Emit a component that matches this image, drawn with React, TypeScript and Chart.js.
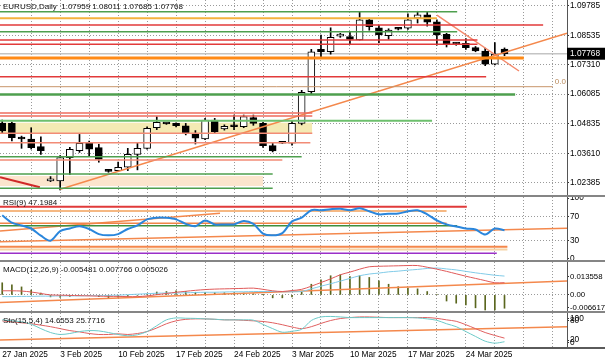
import { useEffect, useRef } from 'react';
import { Chart, registerables } from 'chart.js';

Chart.register(...registerables);

const FONT = '"Liberation Sans", Arial, sans-serif';
const W = 605;
const AXIS_W = 38;
const X_MIN = -0.23;
const X_MAX = 58.47;
const GRID = '#9a9a9a';

// ---------- time axis ----------
const dateLabels = ['27 Jan 2025', '3 Feb 2025', '10 Feb 2025', '17 Feb 2025', '24 Feb 2025', '3 Mar 2025', '10 Mar 2025', '17 Mar 2025', '24 Mar 2025'];
const dateLabelBar = [0, 6, 12, 18, 24, 30, 36, 42, 48];
const gridBars = [0, 3, 6, 9, 12, 15, 18, 21, 24, 27, 30, 33, 36, 39, 42, 45, 48, 51, 54, 57];

// ---------- candles (bar index 0..52) ----------
const opens = [1.0487, 1.0486, 1.0426, 1.0421, 1.0389, 1.0246, 1.0246, 1.0343, 1.0372, 1.0403, 1.0385, 1.0289, 1.0289, 1.0303, 1.0357, 1.0382, 1.0468, 1.0485, 1.0486, 1.0476, 1.0445, 1.0421, 1.0500, 1.0463, 1.0475, 1.0472, 1.0510, 1.0486, 1.0393, 1.0404, 1.0403, 1.0486, 1.0618, 1.0795, 1.0785, 1.0850, 1.0848, 1.0834, 1.0918, 1.0885, 1.0852, 1.0880, 1.0883, 1.0925, 1.0939, 1.0910, 1.0858, 1.0818, 1.0820, 1.0802, 1.0788, 1.0733, 1.07959];
const highs = [1.0500, 1.0491, 1.0433, 1.0468, 1.0430, 1.0264, 1.0352, 1.0386, 1.0440, 1.0412, 1.0399, 1.0293, 1.0325, 1.0382, 1.0407, 1.0472, 1.0514, 1.0487, 1.0488, 1.0486, 1.0456, 1.0507, 1.0507, 1.0480, 1.0521, 1.0521, 1.0521, 1.0490, 1.0405, 1.0408, 1.0495, 1.0624, 1.0795, 1.0855, 1.0885, 1.0862, 1.0870, 1.0950, 1.0925, 1.0895, 1.0881, 1.0884, 1.0943, 1.0954, 1.0950, 1.0918, 1.0862, 1.0822, 1.0840, 1.0807, 1.0800, 1.0823, 1.08011];
const lows = [1.0445, 1.0413, 1.0382, 1.0379, 1.0357, 1.0243, 1.0208, 1.0273, 1.0365, 1.0351, 1.0324, 1.0282, 1.0285, 1.0289, 1.0292, 1.0378, 1.0460, 1.0482, 1.0471, 1.0438, 1.0400, 1.0418, 1.0445, 1.0458, 1.0460, 1.0468, 1.0478, 1.0386, 1.0367, 1.0402, 1.0395, 1.0480, 1.0610, 1.0758, 1.0775, 1.0845, 1.0817, 1.0834, 1.0875, 1.0823, 1.0837, 1.0876, 1.0878, 1.0905, 1.0892, 1.0813, 1.0805, 1.0812, 1.0795, 1.0785, 1.0727, 1.0730, 1.07685];
const closes = [1.0455, 1.0426, 1.0421, 1.0385, 1.0372, 1.0254, 1.0343, 1.0378, 1.0403, 1.0378, 1.0336, 1.0286, 1.0303, 1.0357, 1.0382, 1.0465, 1.0490, 1.0484, 1.0477, 1.0445, 1.0424, 1.0500, 1.0451, 1.0474, 1.0472, 1.0514, 1.0486, 1.0393, 1.0371, 1.0403, 1.0486, 1.0616, 1.0785, 1.0785, 1.0845, 1.0855, 1.0837, 1.0918, 1.0890, 1.0855, 1.0876, 1.0879, 1.0918, 1.0939, 1.0908, 1.0855, 1.0816, 1.0817, 1.0802, 1.0788, 1.0733, 1.0775, 1.07768];
const bars = opens.map((_, i) => i);

// ---------- main price axis ----------
const PRICE_MIN = 1.018717;
const PRICE_MAX = 1.100103;
const priceTicks = [1.09785, 1.08535, 1.07768, 1.0731, 1.06085, 1.04835, 1.0361, 1.02385];
const lastPrice = 1.07768;

// horizontal objects on the price chart
const mainLevelPrice = [1.09522, 1.09246, 1.08967, 1.08687, 1.08341, 1.08161, 1.0759, 1.06809, 1.06392, 1.06066, 1.05294, 1.05169, 1.04973, 1.04447, 1.04055, 1.0347, 1.03332, 1.02748, 1.02151];
const mainLevelEnd = [47.1, 45.0, 56.0, 47.1, 49.2, 49.2, 54.0, 50.1, 57.0, 53.1, 32.1, 32.1, 44.5, 32.1, 31.9, 31.0, 29.0, 28.0, 28.0];
const mainLevelColor = ['#4e9f4e', '#f4b23e', '#e23a3a', '#4e9f4e', '#e23a3a', '#e23a3a', '#ff8a16', '#e23a3a', '#c8966a', '#4e9f4e', '#ee6b5c', '#ee6b5c', '#6dbf6d', '#f28b76', '#f28b76', '#4e9f4e', '#f28b76', '#4e9f4e', '#4e9f4e'];
const mainLevelWidth = [1.5, 2, 1.5, 1.5, 1.5, 1.5, 3, 1.5, 1, 2.5, 1.5, 1.5, 2, 1.5, 1.5, 1.5, 1.5, 1.5, 1.5];
const fibZeroIndex = 8;

const bandTop = [1.04889, 1.02665];
const bandBottom = [1.04447, 1.02247];
const bandEnd = [32.1, 27.0];
const bandColor = ['#f4eab4', '#fce5cd'];

// trend lines: [x0, y0, x1, y1]
const upTrend = [6, 1.0211, 58.47, 1.0862];
const shortRedTrend = [-0.23, 1.02611, 3.9, 1.02193];
const downTrend = [45.0, 1.09384, 53.5, 1.07047];

// ---------- RSI ----------
const rsiValues = [71.7, 59.5, 55, 50, 38.3, 30, 45.8, 50, 53.8, 49.2, 40.8, 38.8, 40.8, 49.2, 55, 65, 67.8, 67.5, 65, 57.5, 53.8, 63.3, 56.7, 56.7, 56.7, 62.5, 57.5, 41.7, 38.8, 42.5, 61.7, 67.8, 80, 80, 81.7, 82.5, 80, 83.3, 78.3, 73.3, 74.2, 74.5, 78.3, 80, 73.3, 63.3, 56.7, 53.3, 50, 48.3, 40, 50, 47.1984];
const rsiTicks = [100, 70, 30, 0];
const rsiLevelVal = [85.8, 78.7, 58.5, 54.6, 20.1, 15.5, 9.3];
const rsiLevelEnd = [48.1, 46.0, 46.0, 47.1, 52.3, 52.3, 51.2];
const rsiLevelColor = ['#e03a3a', '#f2a05a', '#f08448', '#3e8e3e', '#f4874b', '#f6d3a6', '#9b30c8'];
const rsiLevelWidth = [2, 1.5, 1.5, 1.5, 2, 2, 1.5];
const rsiTrend1 = [-0.23, 45.9, 22.55, 75.0];
const rsiTrend2 = [-0.23, 28.3, 58.47, 50.3];

// ---------- MACD ----------
const macdHist = [0.005, 0.0042, 0.0033, 0.002, 0.0008, -0.0008, -0.001, -0.0006, -0.0002, -0.0003, -0.0007, -0.0012, -0.001, -0.0006, -0.0002, 0.0003, 0.0012, 0.0014, 0.0017, 0.0014, 0.0011, 0.0011, 0.0009, 0.0009, 0.0009, 0.0008, 0.0005, 0.0001, -0.0012, -0.0012, -0.0008, 0.0014, 0.0044, 0.0062, 0.0079, 0.0083, 0.0076, 0.0079, 0.0072, 0.0058, 0.0044, 0.0034, 0.0028, 0.0025, 0.0014, 0.0002, -0.0025, -0.0034, -0.0041, -0.0053, -0.0062, -0.0062, -0.005481];
const macdRed = [0.0017, 0.0017, 0.0016, 0.0012, 0.0006, 0.0, -0.0001, -0.0002, -0.0003, -0.0004, -0.0005, -0.0006, -0.0006, -0.0007, -0.0007, -0.0004, 0.0001, 0.0006, 0.0011, 0.0015, 0.0019, 0.0022, 0.0024, 0.0025, 0.0026, 0.0027, 0.0028, 0.0023, 0.0017, 0.0014, 0.0018, 0.0023, 0.0036, 0.0051, 0.0066, 0.0083, 0.0094, 0.0106, 0.0116, 0.0118, 0.0119, 0.012, 0.0121, 0.0121, 0.0114, 0.0106, 0.0097, 0.0087, 0.0077, 0.0068, 0.0059, 0.005, 0.005026];
const macdBlue = [-0.0007, -0.0007, -0.0006, -0.0006, -0.0005, -0.0005, -0.0004, -0.0004, -0.0004, -0.0003, -0.0003, -0.0002, -0.0001, 0.0001, 0.0003, 0.0005, 0.0007, 0.0008, 0.0008, 0.0009, 0.001, 0.0011, 0.0011, 0.0012, 0.0013, 0.0013, 0.0014, 0.0014, 0.0014, 0.0013, 0.0013, 0.0014, 0.0025, 0.0036, 0.0046, 0.0057, 0.0068, 0.0079, 0.0086, 0.009, 0.0095, 0.0098, 0.0102, 0.0105, 0.0109, 0.0111, 0.0107, 0.0103, 0.0097, 0.0091, 0.0086, 0.0081, 0.007766];
const MACD_MIN = -0.006617;
const MACD_MAX = 0.013558;
const macdTickAt = [0.0075, 0, -0.0052];
const macdTickText = ['0.013558', '0.00', '-0.006617'];
const macdTrend = [-0.23, -0.0031, 58.47, 0.0057];

// ---------- Stochastic ----------
const stoMain = [82, 79, 76, 68.7, 55, 43, 37, 40, 46, 49, 48, 43, 37, 33, 36, 46, 64, 82, 88, 87, 86.5, 85, 84, 82, 82, 82, 81, 68, 55, 44, 47, 53, 80, 91, 92.5, 91, 89, 89, 89, 89, 89, 89, 89, 88, 85, 80.6, 70, 61, 46, 31, 16.4, 10.4, 14.6553];
const stoSignal = [79, 76, 73, 70, 65.7, 61, 55, 49, 45, 40, 37, 37, 39, 37, 40, 46, 57, 70, 79, 83.6, 85, 85, 83.6, 82, 82, 80.6, 79, 77, 73, 67, 60, 55, 61, 71, 80, 86, 89, 91, 91, 90, 89, 89, 89, 89, 89, 86.6, 82, 77.6, 67, 55, 43, 34, 25.7716];
const stoTickAt = [86, 80, 20, 12];
const stoTickText = ['100', '80', '20', '0'];
const stoTrend = [-0.23, 20, 58.47, 61];

// ---------- helpers ----------
function seg(t: number[], color: string, width: number, order = 0) {
  return {
    type: 'line',
    data: [{ x: t[0], y: t[1] }, { x: t[2], y: t[3] }],
    borderColor: color,
    borderWidth: width,
    pointRadius: 0,
    fill: false,
    tension: 0,
    order,
  };
}

function series(values: number[], color: string, width: number, order = 0) {
  return {
    type: 'line',
    data: values.map((v, i) => ({ x: bars[i], y: v })),
    borderColor: color,
    borderWidth: width,
    pointRadius: 0,
    fill: false,
    tension: 0.3,
    order,
  };
}

interface Panel {
  top: number;
  height: number;
  bottom: boolean;
  yMin: number;
  yMax: number;
  tickAt: number[];
  tickText: string[];
  tickSize: number;
  gridAt: number[];
  highlight?: number;
  header: string;
  headerY: number;
  datasets: any[];
  extra?: (chart: any) => void;
}

function decor(p: Panel) {
  return {
    id: 'decor',
    afterDraw(chart: any) {
      const { ctx, chartArea } = chart;
      ctx.save();
      ctx.fillStyle = p.bottom ? '#5a5a5a' : '#858585';
      ctx.fillRect(0, chartArea.bottom, W, 2);
      ctx.font = `8px ${FONT}`;
      ctx.fillStyle = '#111';
      ctx.textBaseline = 'middle';
      ctx.textAlign = 'left';
      ctx.fillText(p.header, 3, p.headerY);
      if (p.extra) p.extra(chart);
      ctx.restore();
    },
  };
}

function buildConfig(p: Panel): any {
  return {
    type: 'line',
    data: { datasets: p.datasets },
    options: {
      responsive: false,
      animation: false,
      devicePixelRatio: 1,
      events: [],
      layout: { padding: 0 },
      plugins: { legend: { display: false }, tooltip: { enabled: false }, title: { display: false } },
      scales: {
        x: {
          type: 'linear',
          min: X_MIN,
          max: X_MAX,
          bounds: 'data',
          offset: false,
          afterBuildTicks: (s: any) => {
            s.ticks = gridBars.map((v) => ({ value: v }));
          },
          afterFit: (s: any) => {
            s.height = p.bottom ? 16 : 2;
            s.paddingLeft = 0;
            s.paddingRight = 0;
          },
          ticks: {
            display: p.bottom,
            autoSkip: false,
            maxRotation: 0,
            minRotation: 0,
            align: 'start',
            padding: 3,
            color: '#000',
            font: { family: FONT, size: 8.3 },
            callback: (v: number) => {
              const k = dateLabelBar.indexOf(v);
              return k >= 0 ? dateLabels[k] : '';
            },
          },
          grid: {
            offset: false,
            drawTicks: false,
            lineWidth: 1,
            color: (c: any) => (c.tick && c.tick.value === 0 ? 'rgba(0,0,0,0)' : GRID),
          },
          border: { display: false, dash: [1, 2] },
        },
        y: {
          type: 'linear',
          position: 'right',
          min: p.yMin,
          max: p.yMax,
          bounds: 'data',
          afterBuildTicks: (s: any) => {
            s.ticks = p.tickAt.map((v) => ({ value: v }));
          },
          afterFit: (s: any) => {
            s.width = AXIS_W;
            s.paddingTop = 0;
            s.paddingBottom = 0;
          },
          ticks: {
            autoSkip: false,
            padding: 1,
            font: { family: FONT, size: p.tickSize },
            color: (c: any) => (p.highlight !== undefined && c.tick && c.tick.value === p.highlight ? '#fff' : '#000'),
            showLabelBackdrop: (c: any) => p.highlight !== undefined && !!c.tick && c.tick.value === p.highlight,
            backdropColor: '#000',
            backdropPadding: { top: 1, bottom: 1, left: 3, right: 6 },
            callback: (_v: number, i: number) => p.tickText[i],
          },
          grid: {
            drawTicks: true,
            tickLength: 2,
            tickColor: '#333',
            lineWidth: 1,
            color: (c: any) => (c.tick && p.gridAt.includes(c.tick.value) ? GRID : 'rgba(0,0,0,0)'),
          },
          border: { display: true, color: '#555', width: 1, dash: [1, 2] },
        },
      },
    },
    plugins: [decor(p)],
  };
}

// ---------- panels ----------
const mainDatasets: any[] = [
  ...mainLevelPrice.map((v, i) => seg([X_MIN, v, mainLevelEnd[i], v], mainLevelColor[i], mainLevelWidth[i], 0)),
  seg(upTrend, '#f4884c', 1.5, 0),
  seg(shortRedTrend, '#d02828', 2, 0),
  seg(downTrend, '#f4886a', 1.5, 0),
  {
    type: 'bar',
    data: bars.map((i) => ({ x: i, y: [opens[i], closes[i]] })),
    backgroundColor: bars.map((i) => (closes[i] > opens[i] ? '#ffffff' : '#000000')),
    borderColor: '#000',
    borderWidth: 1,
    borderSkipped: false,
    grouped: false,
    barThickness: 7,
    minBarLength: 2,
    order: 1,
  },
  {
    type: 'bar',
    data: bars.map((i) => ({ x: i, y: [lows[i], highs[i]] })),
    backgroundColor: '#000',
    borderWidth: 0,
    grouped: false,
    barThickness: 1,
    order: 2,
  },
  seg([X_MIN, lastPrice, X_MAX, lastPrice], '#c4c4c4', 1.5, 3),
  ...bandTop.map((t, i) => ({
    type: 'line',
    data: [{ x: X_MIN, y: t }, { x: bandEnd[i], y: t }],
    borderWidth: 0,
    borderColor: 'rgba(0,0,0,0)',
    backgroundColor: bandColor[i],
    pointRadius: 0,
    fill: { value: bandBottom[i] },
    order: 4,
  })),
];

const PANELS: Panel[] = [
  {
    top: 0,
    height: 197,
    bottom: false,
    yMin: PRICE_MIN,
    yMax: PRICE_MAX,
    tickAt: priceTicks,
    tickText: priceTicks.map((v) => v.toFixed(5)),
    tickSize: 8.3,
    gridAt: priceTicks.filter((v) => v !== lastPrice),
    highlight: lastPrice,
    header: 'EURUSD,Daily  1.07959 1.08011 1.07685 1.07768',
    headerY: 6.5,
    datasets: mainDatasets,
    extra: (chart: any) => {
      const xs = chart.scales.x;
      const ys = chart.scales.y;
      const ctx = chart.ctx;
      ctx.font = `8px ${FONT}`;
      ctx.fillStyle = '#b98a5c';
      ctx.textAlign = 'left';
      ctx.fillText('0.0', xs.getPixelForValue(mainLevelEnd[fibZeroIndex]) + 2, ys.getPixelForValue(mainLevelPrice[fibZeroIndex]) - 5);
    },
  },
  {
    top: 197,
    height: 65,
    bottom: false,
    yMin: -1.7,
    yMax: 101.7,
    tickAt: rsiTicks,
    tickText: rsiTicks.map((v) => String(v)),
    tickSize: 8.3,
    gridAt: [70, 30],
    header: 'RSI(9) 47.1984',
    headerY: 5.5,
    datasets: [
      series(rsiValues, '#2a86dc', 2, 0),
      ...rsiLevelVal.map((v, i) => seg([X_MIN, v, rsiLevelEnd[i], v], rsiLevelColor[i], rsiLevelWidth[i], 1)),
      seg(rsiTrend1, '#f4884c', 1.5, 1),
      seg(rsiTrend2, '#f4884c', 1.5, 1),
    ],
  },
  {
    top: 262,
    height: 51,
    bottom: false,
    yMin: MACD_MIN,
    yMax: MACD_MAX,
    tickAt: macdTickAt,
    tickText: macdTickText,
    tickSize: 7.8,
    gridAt: [0],
    header: 'MACD(12,26,9) -0.005481 0.007766 0.005026',
    headerY: 7.5,
    datasets: [
      series(macdRed, '#e05a5a', 1, 0),
      series(macdBlue, '#80cbe8', 1, 0),
      seg(macdTrend, '#f4884c', 1.5, 1),
      {
        type: 'bar',
        data: bars.map((i) => ({ x: i, y: macdHist[i] })),
        backgroundColor: '#5a661e',
        borderWidth: 0,
        grouped: false,
        barThickness: 1,
        order: 2,
      },
    ],
  },
  {
    top: 313,
    height: 50,
    bottom: true,
    yMin: -1.5,
    yMax: 103.1,
    tickAt: stoTickAt,
    tickText: stoTickText,
    tickSize: 8.3,
    gridAt: [],
    header: 'Sto(15,5,4) 14.6553 25.7716',
    headerY: 7.5,
    datasets: [
      series(stoMain, '#6ccac8', 1, 0),
      series(stoSignal, '#e06060', 1, 0),
      seg(stoTrend, '#f4884c', 1.5, 1),
    ],
  },
];

export default function App() {
  const canvases = useRef<(HTMLCanvasElement | null)[]>([]);
  useEffect(() => {
    const charts = PANELS.map((p, i) => new Chart(canvases.current[i] as HTMLCanvasElement, buildConfig(p)));
    return () => charts.forEach((c) => c.destroy());
  }, []);
  return (
    <div style={{ position: 'fixed', left: 0, top: 0, width: W, height: 363, background: '#fff', overflow: 'hidden' }}>
      {PANELS.map((p, i) => (
        <canvas
          key={i}
          ref={(el) => {
            canvases.current[i] = el;
          }}
          width={W}
          height={p.height}
          style={{ position: 'absolute', left: 0, top: p.top, display: 'block', width: W, height: p.height }}
        />
      ))}
    </div>
  );
}
